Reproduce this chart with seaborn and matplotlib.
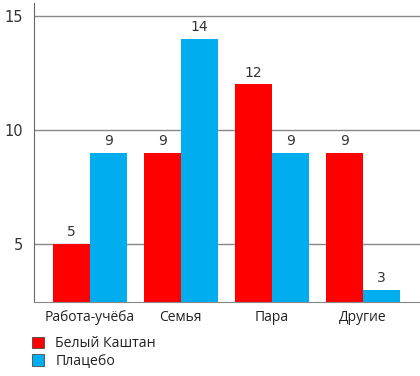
import matplotlib
matplotlib.use("Agg")
import matplotlib.pyplot as plt
import seaborn as sns
import pandas as pd

categories = ["Работа-учёба", "Семья", "Пара", "Другие"]
series_names = ["Белый Каштан", "Плацебо"]
white_chestnut = [5, 9, 12, 9]
placebo = [9, 14, 9, 3]
colors = ["#FF0000", "#00AEEF"]
y_ticks = [5, 10, 15]

df = pd.DataFrame({
    "cat": categories * 2,
    "val": white_chestnut + placebo,
    "series": [series_names[0]] * 4 + [series_names[1]] * 4,
})

sns.set_style("white")
plt.rcParams["font.family"] = ["Open Sans", "DejaVu Sans"]

fig = plt.figure(figsize=(4.2, 3.76), dpi=100)
ax = fig.add_axes([34 / 420, 1 - 302 / 376, (420 - 34) / 420, (302 - 3) / 376])

sns.barplot(data=df, x="cat", y="val", hue="series", palette=colors,
            width=0.81, saturation=1, ax=ax, legend=True, linewidth=0)

for cont in ax.containers:
    ax.bar_label(cont, padding=3.5, fontsize=10, color="#333333", family="DejaVu Sans")

ax.set_ylim(2.46, 15.57)
ax.set_xlim(-0.615, 3.63)
ax.set_yticks(y_ticks, labels=[str(v) for v in y_ticks], family="DejaVu Sans")
ax.yaxis.grid(True, color="#888888", linewidth=1)
ax.set_axisbelow(True)
ax.set_xlabel("")
ax.set_ylabel("")
for s in ["top", "right"]:
    ax.spines[s].set_visible(False)
ax.spines["left"].set_color("#666666")
ax.spines["bottom"].set_color("#888888")
ax.tick_params(axis="y", length=5, color="#888888", labelsize=10.5, labelcolor="#333333", pad=3)
ax.tick_params(axis="x", length=0, labelsize=10, labelcolor="#222222", pad=6)

leg = ax.legend(loc="upper left", bbox_to_anchor=(-0.02, -0.095), frameon=False,
                fontsize=10.2, handlelength=0.85, handleheight=0.85, handletextpad=0.8,
                labelspacing=0.2, borderaxespad=0)
for h in leg.legend_handles:
    h.set_edgecolor("#333333")
    h.set_linewidth(0.5)
for t in leg.get_texts():
    t.set_color("#222222")

fig.savefig("out.png", dpi=100)
